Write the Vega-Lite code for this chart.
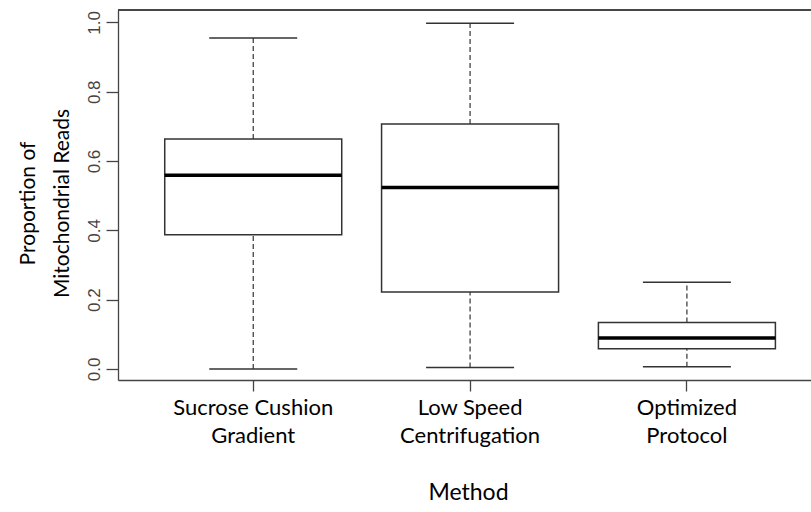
{
  "$schema": "https://vega.github.io/schema/vega-lite/v6.json",
  "width": 693,
  "height": 370,
  "autosize": {"type": "none"},
  "padding": {"left": 118, "top": 10, "right": 0, "bottom": 132},
  "background": "white",
  "config": {
    "view": {"stroke": null},
    "font": "Lato",
    "axis": {"grid": false}
  },
  "data": {
    "values": [
      {"method": "Sucrose Cushion Gradient", "min": 0.0, "q1": 0.387, "median": 0.559, "q3": 0.664, "max": 0.955},
      {"method": "Low Speed Centrifugation", "min": 0.004, "q1": 0.222, "median": 0.524, "q3": 0.707, "max": 0.998},
      {"method": "Optimized Protocol", "min": 0.006, "q1": 0.058, "median": 0.089, "q3": 0.134, "max": 0.25}
    ]
  },
  "encoding": {
    "x": {
      "field": "method",
      "type": "nominal",
      "sort": null,
      "scale": {"paddingInner": 0, "paddingOuter": 0.098, "align": 0.631},
      "axis": {
        "title": "Method",
        "titleFont": "Lato",
        "titleFontSize": 23,
        "titleFontWeight": "normal",
        "titleColor": "#000",
        "titleX": 350,
        "titleY": 112,
        "titleAlign": "center",
        "titleBaseline": "middle",
        "labelExpr": "datum.value == 'Sucrose Cushion Gradient' ? ['Sucrose Cushion', 'Gradient'] : datum.value == 'Low Speed Centrifugation' ? ['Low Speed', 'Centrifugation'] : ['Optimized', 'Protocol']",
        "labelAngle": 0,
        "labelFont": "Lato",
        "labelFontSize": 22,
        "labelColor": "#000",
        "labelLineHeight": 28,
        "labelBaseline": "top",
        "labelPadding": 6,
        "tickSize": 11,
        "tickColor": "#444",
        "tickWidth": 1.3,
        "domainColor": "#444",
        "domainWidth": 1.3
      }
    }
  },
  "layer": [
    {
      "mark": {"type": "rule", "strokeDash": [5, 3], "color": "#333", "strokeWidth": 1.2},
      "encoding": {
        "y": {
          "field": "q3",
          "type": "quantitative",
          "scale": {"domain": [-0.032, 1.036], "nice": false, "zero": false},
          "axis": {
            "title": ["Proportion of", "Mitochondrial Reads"],
            "titleFont": "Lato",
            "titleFontSize": 21,
            "titleFontWeight": "normal",
            "titleColor": "#000",
            "titleAngle": -90,
            "titleX": -101,
            "titleY": 193,
            "titleAlign": "center",
            "titleBaseline": "top",
            "titleLineHeight": 34,
            "values": [0, 0.2, 0.4, 0.6, 0.8, 1.0],
            "format": ".1f",
            "labelFont": "Liberation Sans",
            "labelFontSize": 17,
            "labelColor": "#444",
            "labelAngle": -90,
            "labelAlign": "center",
            "labelBaseline": "alphabetic",
            "labelPadding": 7,
            "tickSize": 12,
            "tickColor": "#444",
            "tickWidth": 1.3,
            "domainColor": "#444",
            "domainWidth": 1.3
          }
        },
        "y2": {"field": "max"}
      }
    },
    {
      "mark": {"type": "rule", "strokeDash": [5, 3], "color": "#333", "strokeWidth": 1.2},
      "encoding": {
        "y": {"field": "min", "type": "quantitative"},
        "y2": {"field": "q1"}
      }
    },
    {
      "mark": {"type": "tick", "orient": "horizontal", "size": 88, "thickness": 1.5, "color": "#333", "opacity": 1},
      "encoding": {"y": {"field": "max", "type": "quantitative"}}
    },
    {
      "mark": {"type": "tick", "orient": "horizontal", "size": 88, "thickness": 1.5, "color": "#333", "opacity": 1},
      "encoding": {"y": {"field": "min", "type": "quantitative"}}
    },
    {
      "mark": {"type": "bar", "size": 177, "fill": "white", "stroke": "#333", "strokeWidth": 1.5, "opacity": 1},
      "encoding": {
        "y": {"field": "q1", "type": "quantitative"},
        "y2": {"field": "q3"}
      }
    },
    {
      "mark": {"type": "tick", "orient": "horizontal", "size": 177, "thickness": 3.5, "color": "#000", "opacity": 1},
      "encoding": {"y": {"field": "median", "type": "quantitative"}}
    },
    {
      "mark": {"type": "rule", "color": "#444", "strokeWidth": 1.3},
      "encoding": {
        "y": {"datum": 1.036},
        "x": {"value": 0},
        "x2": {"value": "width"}
      }
    }
  ]
}
